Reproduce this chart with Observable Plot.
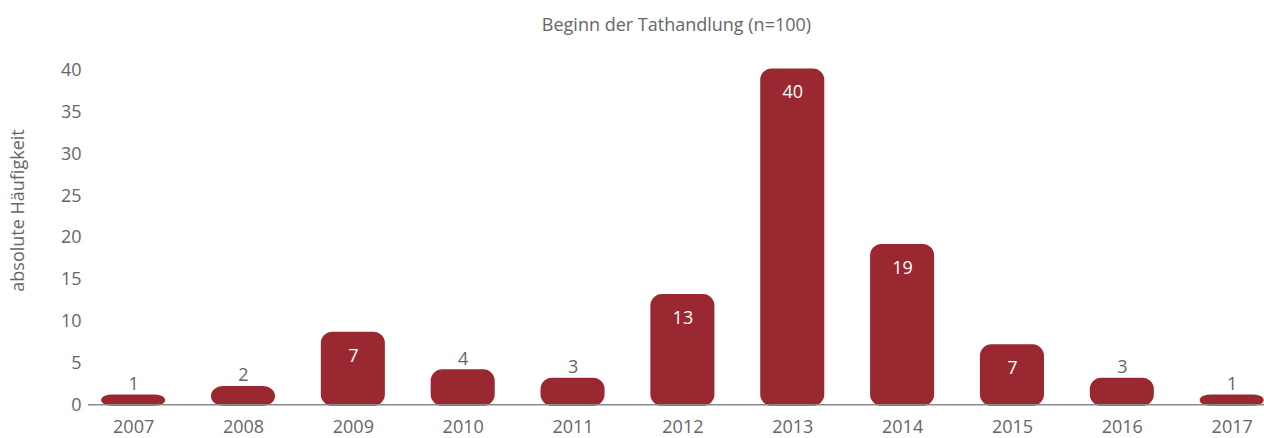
<!DOCTYPE html>
<html>
<head>
<meta charset="utf-8">
<script src="https://cdn.jsdelivr.net/npm/d3@7"></script>
<script src="https://cdn.jsdelivr.net/npm/@observablehq/plot@0.6"></script>
<style>
  html, body { margin: 0; padding: 0; background: #fff; }
  #chart svg { display: block; }
</style>
</head>
<body>
<div id="chart"></div>
<script>
const years = ["2007","2008","2009","2010","2011","2012","2013","2014","2015","2016","2017"];
const counts = [1, 2, 7, 4, 3, 13, 40, 19, 7, 3, 1];
// bar heights as drawn in the reference (2009 bar drawn taller than its label)
const heights = [1, 2, 8.5, 4, 3, 13, 40, 19, 7, 3, 1];
const yTicks = [0, 5, 10, 15, 20, 25, 30, 35, 40];
const title = "Beginn der Tathandlung (n=100)";
const yLabel = "absolute Häufigkeit";

const data = years.map((y, i) => ({year: y, count: counts[i], h: heights[i]}));

const barColor = "#9a2830";
const textColor = "#666666";
const font = "'Open Sans', sans-serif";

const chart = Plot.plot({
  width: 1264,
  height: 438,
  marginLeft: 88,
  marginRight: 0,
  marginTop: 70,
  marginBottom: 34,
  style: {fontFamily: font, fontSize: "18px", color: textColor, background: "#fff"},
  x: {domain: years, range: [78.2, 1286.6], padding: 0, round: false, label: null},
  y: {domain: [0, 40], range: [404.3, 69.9], label: null},
  marks: [
    Plot.barY(data, {x: "year", y: "h", fill: barColor, stroke: barColor, strokeWidth: 3, strokeLinejoin: "round", rx: 10, insetLeft: 24.4, insetRight: 24.4}),
    Plot.ruleY([0], {stroke: "#8a8a8a", strokeWidth: 1.5}),
    Plot.axisY({ticks: yTicks, tickSize: 0, tickPadding: 7, fontSize: 18, label: null}),
    Plot.axisX({tickSize: 0, tickPadding: 16, fontSize: 18, label: null}),
    Plot.text(data.filter(d => d.count >= 7), {x: "year", y: "h", text: d => String(d.count), dy: 22, fill: "#ffffff", fontSize: 18}),
    Plot.text(data.filter(d => d.count < 7), {x: "year", y: "h", text: d => String(d.count), dy: -12.6, fill: textColor, fontSize: 18}),
    Plot.text([title], {frameAnchor: "top", lineAnchor: "middle", dy: -45, fill: textColor, fontSize: 18}),
    Plot.text([yLabel], {frameAnchor: "left", textAnchor: "middle", lineAnchor: "middle", rotate: -90, dx: -70, dy: -27, fill: textColor, fontSize: 18})
  ]
});
document.getElementById("chart").appendChild(chart);
</script>
</body>
</html>
